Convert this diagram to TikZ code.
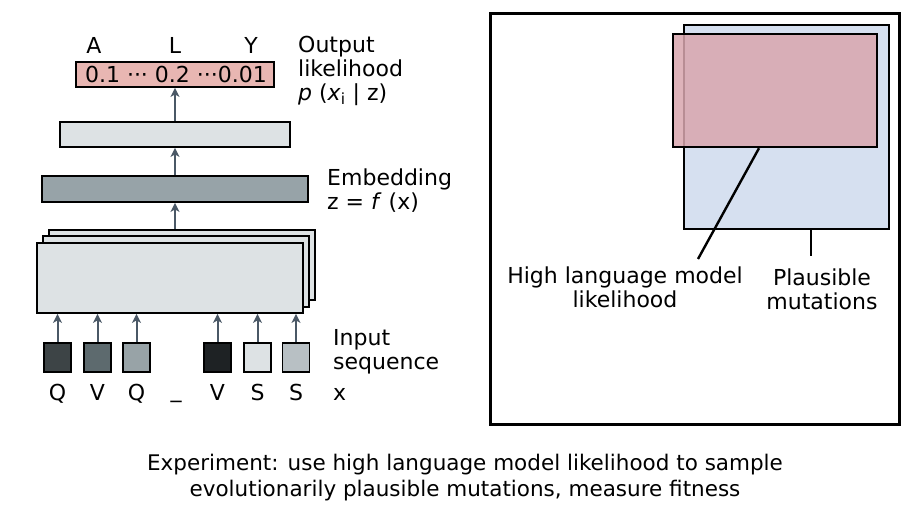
\documentclass[tikz,border=0pt]{standalone}
\usepackage{fontspec}
\setmainfont{DejaVu Sans}
\usetikzlibrary{arrows.meta,calc}
\definecolor{pinkout}{HTML}{E8B6B2}
\definecolor{lightbox}{HTML}{DDE2E4}
\definecolor{embbox}{HTML}{97A3A8}
\definecolor{arrowc}{HTML}{4A5866}
\definecolor{sqa}{HTML}{3D4446}
\definecolor{sqb}{HTML}{5D6A6E}
\definecolor{sqc}{HTML}{98A3A7}
\definecolor{sqd}{HTML}{1E2224}
\definecolor{sqe}{HTML}{DDE2E4}
\definecolor{sqf}{HTML}{B8C0C4}
\definecolor{bluebox}{HTML}{D6E0F0}
\definecolor{pinkbox}{HTML}{D9A6AE}
\tikzset{
  layer/.style={draw=black,line width=1.8pt,inner sep=0pt},
  sq/.style={draw=black,line width=1.8pt,inner sep=0pt,minimum width=27pt,minimum height=29pt},
  arr/.style={draw=arrowc,line width=2pt,-{Stealth[length=9pt,width=9pt,inset=2.5pt]}},
  lbl/.style={font=\fontsize{22}{24}\selectfont,inner sep=0pt,text=black},
  lead/.style={draw=black,line width=2.4pt},
}
\begin{document}
\begin{tikzpicture}[x=1pt,y=-1pt]
\useasboundingbox[fill=white] (0,0) rectangle (915,511);
% left: network
\node[layer,fill=pinkout,minimum width=198pt,minimum height=25pt] (out) at (175,74.5) {};
\node[lbl,anchor=base] (outtxt) at (176,82.5) {0.1 ··· 0.2 ···0.01};
\node[lbl,anchor=base] (la) at (94,53) {A};
\node[lbl,anchor=base] (ll) at (175,53) {L};
\node[lbl,anchor=base] (ly) at (251,53) {Y};
\node[lbl,anchor=base west,align=left] (outlab) at (298,100) {Output\\likelihood\\\textit{p} (\textit{x}\textsubscript{i} | z)};
\node[layer,fill=lightbox,minimum width=230pt,minimum height=25pt] (b2) at (175,134.5) {};
\node[layer,fill=embbox,minimum width=266pt,minimum height=26pt] (emb) at (175,189) {};
\node[lbl,anchor=base west,align=left] (emblab) at (327,209) {Embedding\\z = \textit{f} (x)};
\node[layer,fill=lightbox,minimum width=266pt,minimum height=70pt] (back) at (182,265) {};
\node[layer,fill=lightbox,minimum width=266pt,minimum height=71pt] (mid) at (176,271.5) {};
\node[layer,fill=lightbox,minimum width=266pt,minimum height=70pt] (front) at (170,278) {};
\draw[arr] (b2.north) -- (out.south);
\draw[arr] (emb.north) -- (b2.south);
\draw[arr] (emb.south |- back.north) -- (emb.south);
% input squares
\node[sq,fill=sqa] (s1) at (57.5,357.5) {};
\node[sq,fill=sqb] (s2) at (97.5,357.5) {};
\node[sq,fill=sqc] (s3) at (136.5,357.5) {};
\node[sq,fill=sqd] (s5) at (217.5,357.5) {};
\node[sq,fill=sqe] (s6) at (257.5,357.5) {};
\node[sq,fill=sqf] (s7) at (296,357.5) {};
\foreach \s in {s1,s2,s3,s5,s6,s7}{
  \draw[arr] (\s.north) -- (\s.north |- front.south);
}
\node[lbl,anchor=base] (t1) at (57.5,400) {Q};
\node[lbl,anchor=base] (t2) at (97.5,400) {V};
\node[lbl,anchor=base] (t3) at (136.5,400) {Q};
\node[lbl,anchor=base] (t4) at (176,397) {\_};
\node[lbl,anchor=base] (t5) at (217.5,400) {V};
\node[lbl,anchor=base] (t6) at (257.5,400) {S};
\node[lbl,anchor=base] (t7) at (296,400) {S};
\node[lbl,anchor=base west,align=left] (inlab) at (333,369) {Input\\sequence};
\node[lbl,anchor=base west] (xlab) at (333,400) {x};
% right panel
\node[draw=black,line width=3pt,inner sep=0pt,minimum width=409pt,minimum height=410pt] (frame) at (694.5,219) {};
\node[draw=black,line width=2.4pt,fill=bluebox,inner sep=0pt,minimum width=205pt,minimum height=204pt] (blue) at (786.5,127) {};
\node[draw=black,line width=2.4pt,fill=pinkbox,fill opacity=0.85,inner sep=0pt,minimum width=204pt,minimum height=113pt] (pink) at (775,90.5) {};
\coordinate (hlend) at (698,259);
\coordinate (plend) at (811,256);
\draw[lead] ([xshift=-16pt]pink.south) -- (hlend);
\draw[lead] (blue.south -| plend) -- (plend);
\node[lbl,align=center,anchor=base] (hllab) at (625,307) {High language model\\likelihood};
\node[lbl,align=center,anchor=base] (pllab) at (822,309) {Plausible\\mutations};
% caption
\node[lbl,align=center,anchor=base,font=\fontsize{21.5}{26}\selectfont] (cap) at (465,496) {Experiment: use high language model likelihood to sample\\evolutionarily plausible mutations, measure fitness};
\end{tikzpicture}
\end{document}
